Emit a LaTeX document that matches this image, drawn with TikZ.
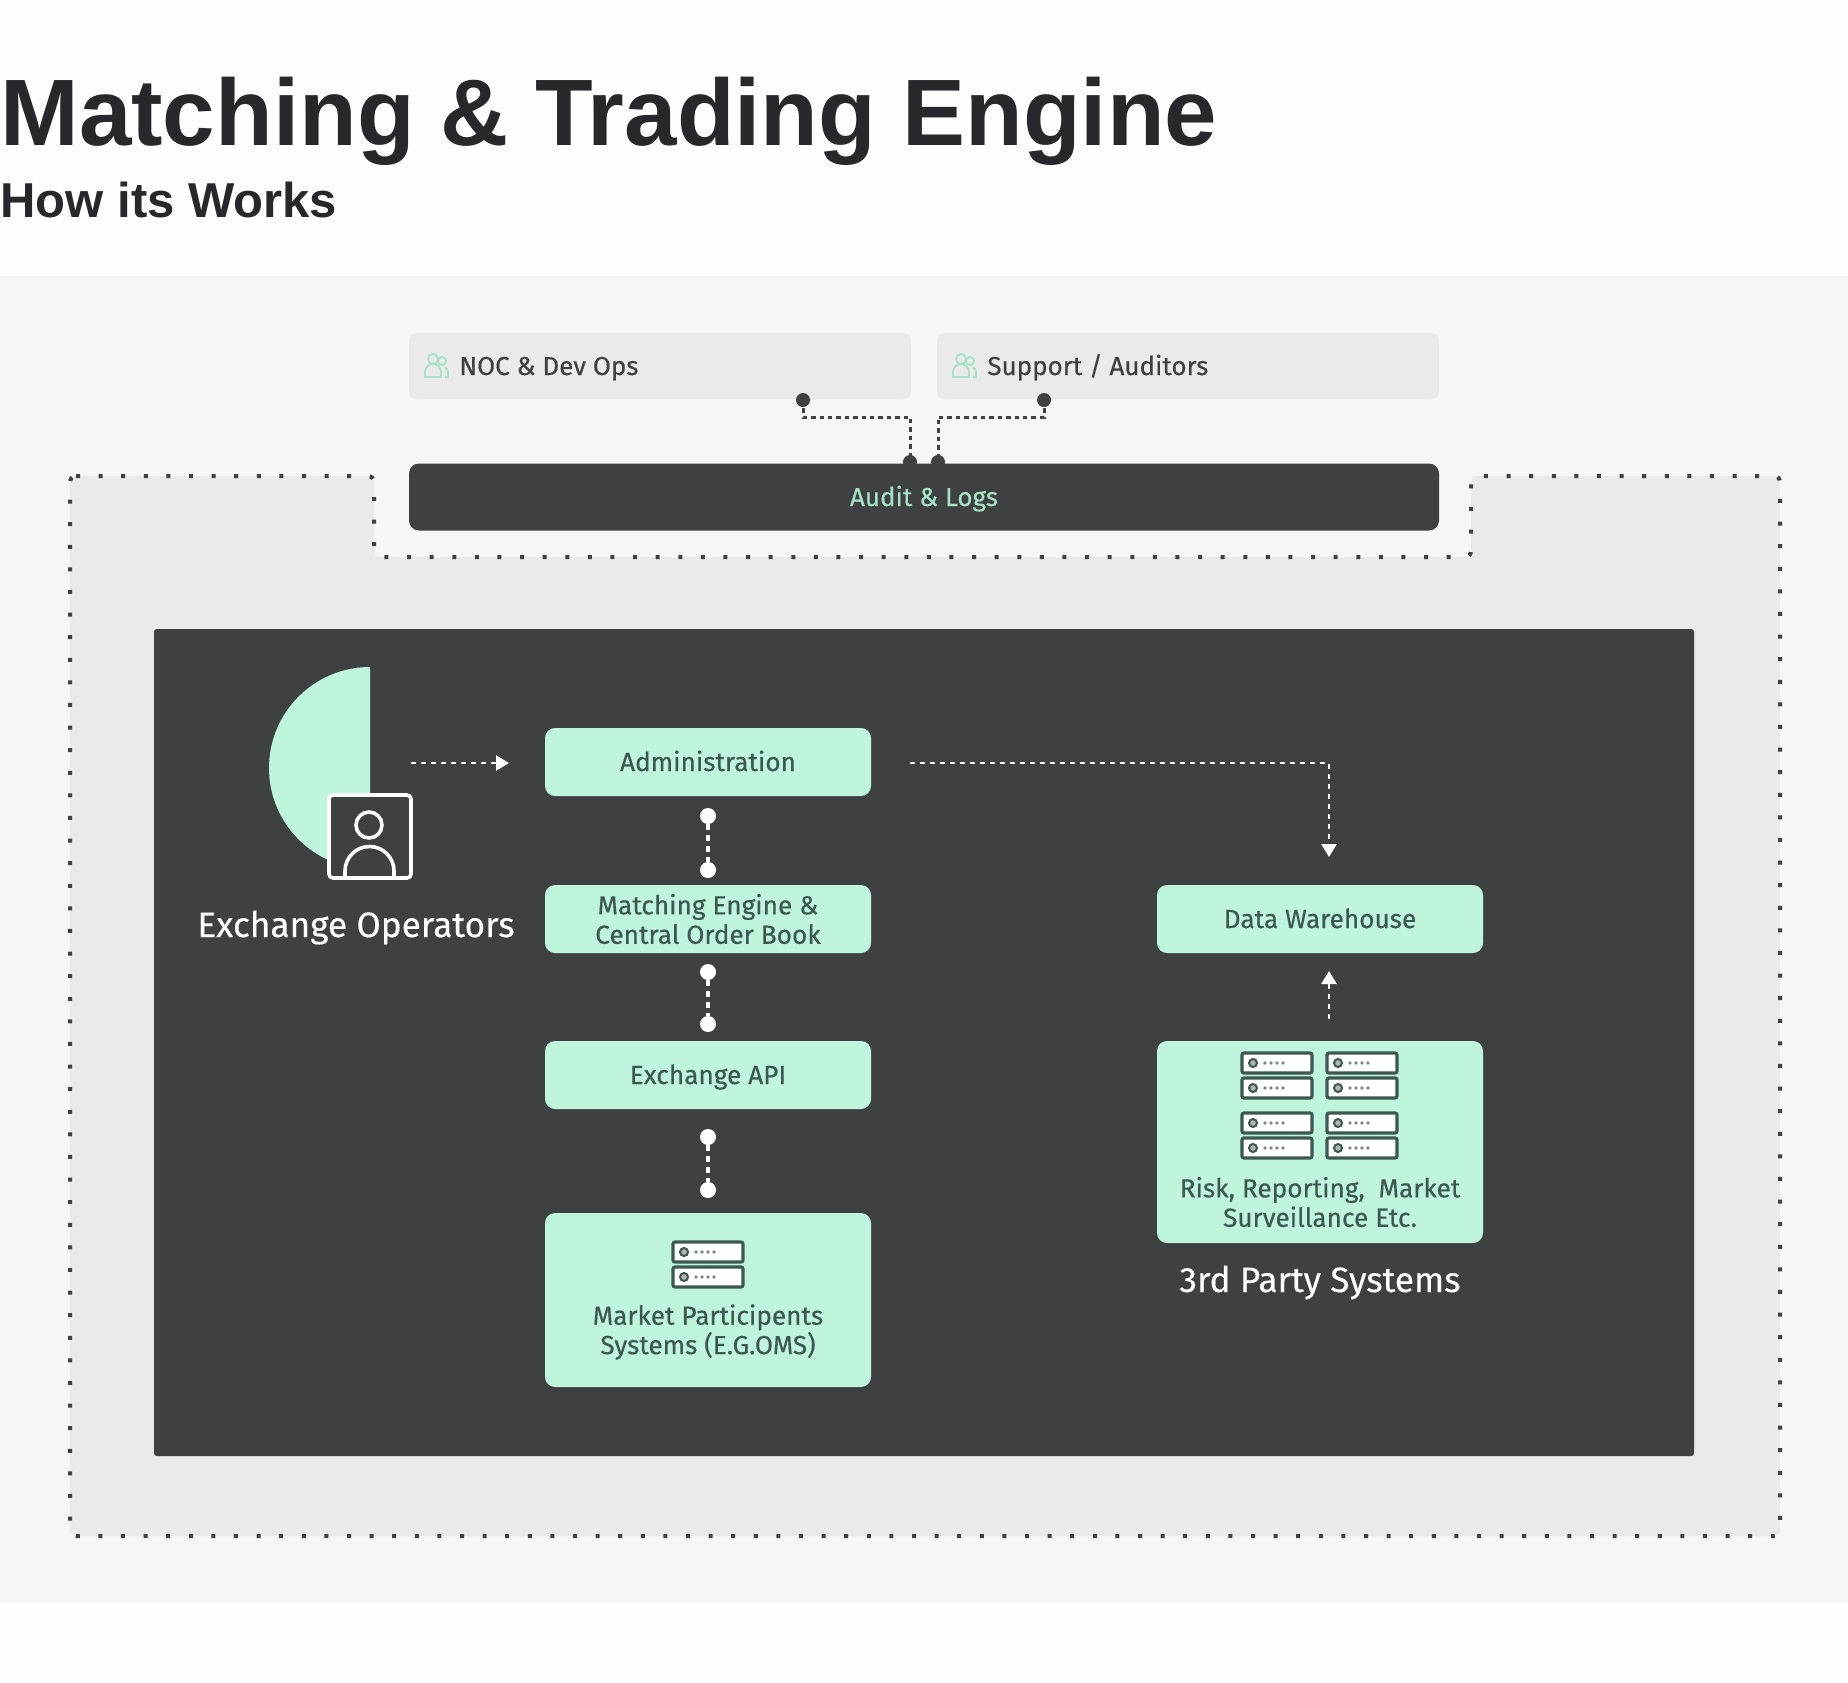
\documentclass[tikz,border=0pt]{standalone}
\usepackage{fontspec}
\usepackage{tikz}
\usetikzlibrary{arrows.meta}
\setmainfont{Fira Sans}[FakeBold=0.35]
\newfontfamily\titlefont{Liberation Sans}[BoldFont={Liberation Sans Bold}]
\definecolor{pagebg}{HTML}{FDFDFD}
\definecolor{panelbg}{HTML}{F6F6F6}
\definecolor{zonebg}{HTML}{EAEAEA}
\definecolor{slate}{HTML}{3F4042}
\definecolor{mintc}{HTML}{BFF5DD}
\definecolor{minttext}{HTML}{A6E3C4}
\definecolor{boxtext}{HTML}{3C5850}
\definecolor{inktext}{HTML}{26282B}
\tikzset{
  oneline/.style={text height=10.5pt, text depth=1.5pt},
  topbox/.style={fill=zonebg, rounded corners=4pt, minimum width=251pt, minimum height=33pt, inner sep=0pt},
  mintbox/.style={fill=mintc, rounded corners=5pt, minimum width=163pt, minimum height=34pt, inner sep=0pt, text=boxtext, font=\fontsize{13.1}{14.7}\selectfont, align=center},
  boxlabel/.style={text=boxtext, font=\fontsize{13.1}{14.7}\selectfont, align=center, inner sep=0pt},
  bigwhite/.style={text=white, font=\fontsize{17.6}{20}\selectfont, inner sep=0pt, text height=13pt, text depth=1pt},
  toplabel/.style={oneline, text=slate, font=\fontsize{13}{14}\selectfont, anchor=west, inner sep=0pt},
  wdot/.style={circle, fill=white, minimum size=8pt, inner sep=0pt},
  ddot/.style={circle, fill=slate, minimum size=7pt, inner sep=0pt},
  wlink/.style={draw=white, line width=1.7pt, dash pattern=on 2.7pt off 2.8pt},
  dlink/.style={draw=slate, line width=1.5pt, dash pattern=on 2.2pt off 2pt},
  warrow/.style={draw=white, line width=1.4pt, dash pattern=on 2.5pt off 2.5pt, -{Triangle[length=6.5pt,width=7.5pt]}},
  serverunit/.pic={
    \draw[fill=white, draw=boxtext, line width=1.6pt, rounded corners=1pt] (-35,-10) rectangle (35,10);
    \draw[fill=slate!40, draw=boxtext, line width=1pt] (-24,0) circle (4);
    \foreach \dx in {-12,-6,0,6} \fill[boxtext!70] (\dx,0) circle (1.8);
  },
  crewmark/.pic={
    \draw[minttext, line width=.9pt] (-3,-7) circle (5);
    \draw[minttext, line width=.9pt] (-11,11) -- (-11,6) arc[start angle=180, end angle=360, radius=8] -- (5,11) -- cycle;
    \draw[minttext, line width=.9pt] (6,-5) circle (4);
    \draw[minttext, line width=.9pt] (9,11) -- (12,11) -- (12,6) arc[start angle=0, end angle=-70, radius=5];
  }
}
\begin{document}
\begin{tikzpicture}[x=0.5pt,y=-0.5pt]
  \useasboundingbox (0,0) rectangle (1848,1682);
  \fill[pagebg] (0,0) rectangle (1848,1682);
  \fill[panelbg] (0,276) rectangle (1848,1602);

  \node[anchor=base west, inner sep=0pt, text=inktext, font=\titlefont\bfseries\fontsize{47.2}{50}\selectfont] (title) at (0,145) {Matching \& Trading Engine};
  \node[anchor=base west, inner sep=0pt, text=inktext, font=\titlefont\bfseries\fontsize{24.5}{28}\selectfont] (subtitle) at (0,217) {How its Works};

  \draw[fill=zonebg, draw=slate, line width=2pt, dash pattern=on 2pt off 9.3pt, rounded corners=3pt]
    (70,476) -- (374,476) -- (374,557) -- (1471,557) -- (1471,476) -- (1780,476) -- (1780,1536) -- (70,1536) -- cycle;
  \fill[slate, rounded corners=1.5pt] (154,629) rectangle (1694,1456);

  \node[topbox] (noc) at (660,366) {};
  \node[topbox] (support) at (1188,366) {};
  \node[toplabel] (noclabel) at (459,366) {NOC \& Dev Ops};
  \node[toplabel] (supportlabel) at (987,366) {Support / Auditors};
  \pic at (436,366) {crewmark};
  \pic at (964,366) {crewmark};

  \node[ddot] (nocdot) at (803,400) {};
  \node[ddot] (supportdot) at (1044,400) {};
  \node[ddot] (auditleft) at (910,462) {};
  \node[ddot] (auditright) at (938,462) {};
  \coordinate (nocbend) at (910,417);
  \coordinate (supportbend) at (938,417);
  \draw[dlink] (nocdot.center) |- (nocbend) -- (auditleft.center);
  \draw[dlink] (supportdot.center) |- (supportbend) -- (auditright.center);
  \node[oneline, fill=slate, rounded corners=5pt, minimum width=515pt, minimum height=33.5pt, inner sep=0pt, text=minttext, font=\fontsize{13}{14}\selectfont] (audit) at (924,497) {Audit \& Logs};

  \fill[mintc] (370,667) arc[start angle=270, end angle=90, radius=101] -- cycle;
  \draw[fill=slate, draw=white, line width=1.8pt, rounded corners=2pt] (329,795) rectangle (411,878);
  \draw[white, line width=1.8pt] (369,825) circle (13);
  \draw[white, line width=1.8pt] (345,877) -- (345,871) arc[start angle=180, end angle=360, radius=24.5] -- (394,877);
  \node[bigwhite] (operators) at (356,925) {Exchange Operators};

  \node[mintbox, oneline] (admin) at (708,762) {Administration};
  \node[mintbox] (matching) at (708,919) {Matching Engine \&\\Central Order Book};
  \node[mintbox, oneline] (api) at (708,1075) {Exchange API};
  \node[mintbox, minimum height=87pt] (market) at (708,1300) {};
  \node[boxlabel] (marketlabel) at (708,1332) {Market Participents\\Systems (E.G.OMS)};
  \node[mintbox, oneline] (warehouse) at (1320,919) {Data Warehouse};
  \node[mintbox, minimum height=101pt] (risk) at (1320,1142) {};
  \node[boxlabel] (risklabel) at (1320,1202) {Risk, Reporting,\ \ Market\\Surveillance Etc.};
  \node[bigwhite] (thirdparty) at (1320,1280) {3rd Party Systems};

  \foreach \sx/\sy in {708/1252, 708/1277, 1277/1063, 1277/1088, 1277/1123, 1277/1148, 1362/1063, 1362/1088, 1362/1123, 1362/1148}
    \pic at (\sx,\sy) {serverunit};

  \node[wdot] (adminlow) at (708,816) {};
  \node[wdot] (matchtop) at (708,870) {};
  \node[wdot] (matchlow) at (708,972) {};
  \node[wdot] (apitop) at (708,1024) {};
  \node[wdot] (apilow) at (708,1137) {};
  \node[wdot] (markettop) at (708,1190) {};
  \draw[wlink] (adminlow) -- (matchtop);
  \draw[wlink] (matchlow) -- (apitop);
  \draw[wlink] (apilow) -- (markettop);

  \coordinate (opsout) at (411,763);
  \coordinate (adminin) at (509,763);
  \coordinate (adminout) at (910,763);
  \coordinate (housein) at (1329,857);
  \coordinate (riskout) at (1329,1019);
  \coordinate (houseup) at (1329,971);
  \draw[warrow] (opsout) -- (adminin);
  \draw[warrow] (adminout) -| (housein);
  \draw[warrow] (riskout) -- (houseup);
\end{tikzpicture}
\end{document}
